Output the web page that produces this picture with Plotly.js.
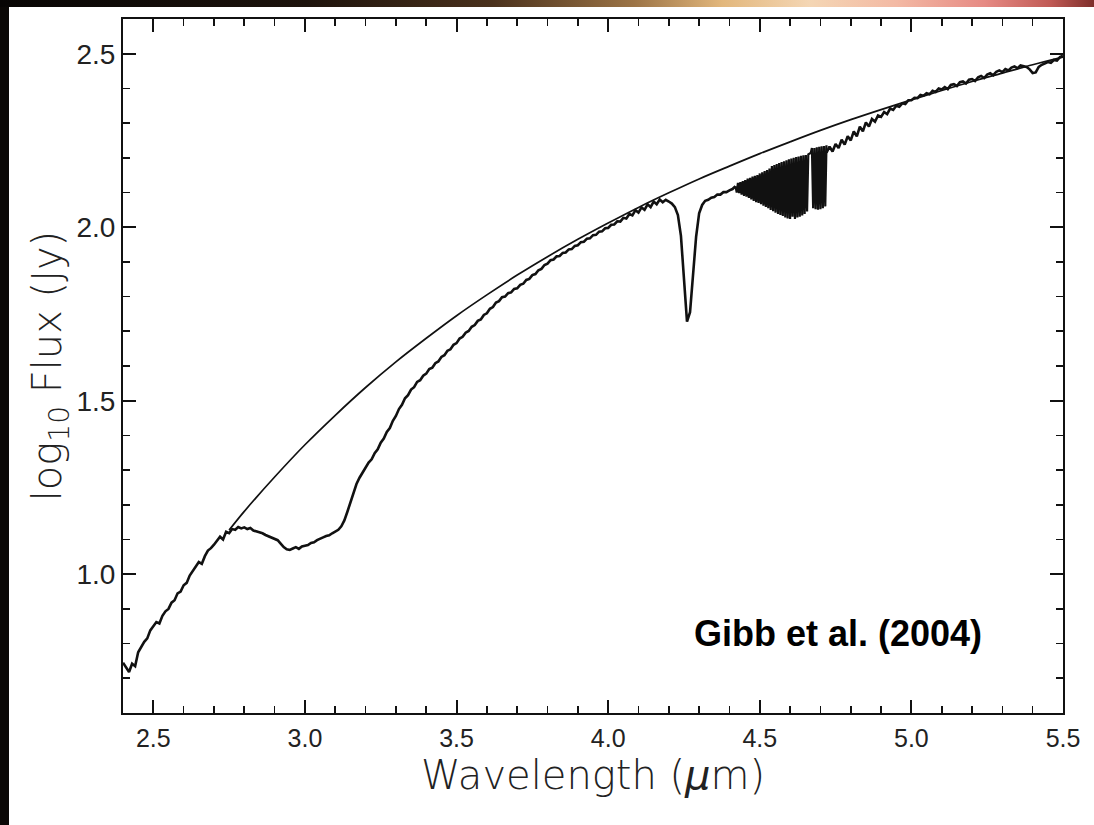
<!DOCTYPE html>
<html>
<head>
<meta charset="utf-8">
<script src="https://cdn.plot.ly/plotly-3.0.1.min.js"></script>
<style>
  html, body { margin: 0; padding: 0; background: #ffffff; }
  #chart { position: absolute; left: 0; top: 0; width: 1094px; height: 825px; }
  #edgeLeft { position: absolute; left: 0; top: 0; width: 9px; height: 825px; background: #0b0806; z-index: 5; }
  #edgeTop { position: absolute; left: 0; top: 0; width: 1094px; height: 7px; z-index: 5;
    background: linear-gradient(to right, #070504 0%, #1d130c 28%, #4a311c 45%, #9c7446 58%, #e2b77c 66%, #f4d6b4 74%, #f3b9a4 82%, #e68a84 90%, #c05a55 96%, #7e2e2a 100%); }
</style>
</head>
<body>
<div id="chart"></div>
<div id="edgeLeft"></div>
<div id="edgeTop"></div>
<script>
// Observed spectrum, segment 1: 2.40 to 4.42 um, step 0.01 um
const spectrumA_start = 2.40;
const spectrumA_step = 0.01;
const spectrumA_flux = [
  0.745,0.730,0.718,0.742,0.735,0.775,0.790,0.805,0.815,0.838,
  0.850,0.862,0.858,0.880,0.893,0.900,0.918,0.925,0.945,0.950,
  0.968,0.975,0.996,1.010,1.022,1.035,1.030,1.052,1.068,1.075,
  1.085,1.098,1.108,1.100,1.122,1.118,1.130,1.128,1.136,1.132,
  1.135,1.130,1.133,1.126,1.124,1.120,1.118,1.113,1.109,1.106,
  1.103,1.098,1.088,1.078,1.072,1.070,1.074,1.078,1.073,1.080,
  1.082,1.084,1.090,1.092,1.098,1.101,1.106,1.110,1.112,1.118,
  1.122,1.128,1.138,1.155,1.180,1.208,1.235,1.260,1.278,1.292,
  1.304,1.322,1.331,1.349,1.360,1.379,1.391,1.410,1.421,1.442,
  1.456,1.476,1.488,1.507,1.516,1.532,1.539,1.554,1.559,1.572,
  1.578,1.591,1.595,1.608,1.613,1.626,1.631,1.644,1.648,1.661,
  1.666,1.679,1.684,1.696,1.701,1.713,1.718,1.730,1.734,1.747,
  1.752,1.765,1.770,1.783,1.787,1.798,1.800,1.810,1.812,1.822,
  1.824,1.834,1.837,1.848,1.851,1.862,1.865,1.876,1.880,1.891,
  1.895,1.905,1.907,1.916,1.917,1.926,1.927,1.936,1.937,1.946,
  1.948,1.957,1.958,1.967,1.968,1.977,1.978,1.987,1.988,1.997,
  1.998,2.007,2.008,2.017,2.016,2.027,2.025,2.038,2.034,2.049,
  2.042,2.057,2.050,2.066,2.058,2.074,2.066,2.080,2.072,2.079,
  2.074,2.068,2.058,2.035,1.975,1.865,1.728,1.755,1.852,1.972,
  2.040,2.064,2.076,2.079,2.085,2.087,2.094,2.094,2.101,2.101,
  2.106,2.110,2.118
];

// Observed spectrum, segment 2: CO line forest 4.42 to 4.72 um, step 0.004 um
const spectrumB_start = 4.42;
const spectrumB_step = 0.004;
const spectrumB_flux = [
  2.118,2.100,2.128,2.098,2.130,2.094,2.133,2.090,2.136,2.088,
  2.140,2.084,2.142,2.080,2.146,2.076,2.148,2.072,2.150,2.070,
  2.155,2.066,2.158,2.062,2.162,2.058,2.165,2.055,2.169,2.050,
  2.176,2.046,2.179,2.042,2.182,2.038,2.185,2.035,2.188,2.032,
  2.190,2.028,2.193,2.025,2.196,2.024,2.198,2.030,2.200,2.024,
  2.202,2.028,2.204,2.030,2.206,2.034,2.207,2.038,2.208,2.045,
  2.210,2.212,2.214,2.228,2.055,2.228,2.052,2.230,2.050,2.232,
  2.052,2.233,2.055,2.234,2.060,2.236
];

// Observed spectrum, segment 3: 4.72 to 5.50 um, step 0.01 um
const spectrumC_start = 4.72;
const spectrumC_step = 0.01;
const spectrumC_flux = [
  2.215,2.232,2.218,2.240,2.228,2.252,2.238,2.262,2.250,2.276,
  2.262,2.290,2.276,2.302,2.290,2.312,2.304,2.322,2.318,2.332,
  2.326,2.342,2.338,2.350,2.347,2.357,2.355,2.366,2.366,2.373,
  2.372,2.381,2.379,2.386,2.383,2.393,2.390,2.400,2.397,2.404,
  2.398,2.410,2.412,2.407,2.418,2.420,2.414,2.425,2.427,2.421,
  2.432,2.436,2.430,2.440,2.444,2.438,2.448,2.452,2.447,2.456,
  2.452,2.460,2.463,2.458,2.466,2.463,2.462,2.455,2.444,2.446,
  2.462,2.468,2.472,2.476,2.474,2.482,2.480,2.490,2.494
];

// Fitted continuum
const continuum_wavelength = [2.75,2.8,2.9,3.0,3.1,3.2,3.3,3.4,3.5,3.6,3.7,3.8,3.9,4.0,4.1,4.2,4.3,4.4,4.5,4.6,4.7,4.8,4.9,5.0,5.1,5.2,5.3,5.4,5.5];
const continuum_flux = [1.127,1.181,1.280,1.373,1.458,1.538,1.612,1.680,1.745,1.805,1.862,1.915,1.965,2.012,2.057,2.099,2.139,2.176,2.212,2.246,2.279,2.310,2.339,2.367,2.394,2.420,2.444,2.468,2.490];

const xTitle = 'Wavelength (<i>μ</i>m)';
const yTitle = 'log<sub>10</sub> Flux (Jy)';
const sourceNote = 'Gibb et al. (2004)';

const ink = '#111111';
const specLine = { color: ink, width: 2.6 };

const traces = [
  { type: 'scatter', mode: 'lines', x: continuum_wavelength, y: continuum_flux,
    line: { color: ink, width: 1.7, shape: 'spline' }, hoverinfo: 'skip', showlegend: false },
  { type: 'scatter', mode: 'lines', x0: spectrumA_start, dx: spectrumA_step, y: spectrumA_flux,
    line: specLine, showlegend: false },
  { type: 'scatter', mode: 'lines', x0: spectrumB_start, dx: spectrumB_step, y: spectrumB_flux,
    line: { color: ink, width: 2.2 }, showlegend: false },
  { type: 'scatter', mode: 'lines', x0: spectrumC_start, dx: spectrumC_step, y: spectrumC_flux,
    line: specLine, showlegend: false }
];

const titleFontX = { family: 'DejaVu Sans, sans-serif', size: 40, color: '#222', weight: 300 };
const titleFontY = { family: 'DejaVu Sans, sans-serif', size: 40, color: '#222', weight: 300 };

const axisCommon = {
  ticks: 'inside', ticklen: 13, tickwidth: 2, tickcolor: ink,
  showline: true, linewidth: 2, linecolor: ink, mirror: 'allticks',
  showgrid: false, zeroline: false, tickformat: '.1f',
  minor: { ticks: 'inside', ticklen: 7, tickwidth: 1.6, tickcolor: ink, dtick: 0.1, showgrid: false }
};

const layout = {
  width: 1094, height: 825,
  margin: { l: 123, r: 31, t: 19, b: 112 },
  paper_bgcolor: '#ffffff', plot_bgcolor: '#ffffff',
  showlegend: false,
  xaxis: Object.assign({}, axisCommon, {
    range: [2.4, 5.5], tick0: 2.5, dtick: 0.5,
    tickfont: { family: 'Liberation Sans, Arial, sans-serif', size: 25, color: '#222' },
    ticklabelstandoff: 2,
    minor: Object.assign({}, axisCommon.minor, { tick0: 2.5 }),
    title: { text: xTitle, font: titleFontX, standoff: 0 }
  }),
  yaxis: Object.assign({}, axisCommon, {
    range: [0.6, 2.6], tick0: 1.0, dtick: 0.5,
    tickfont: { family: 'Liberation Sans, Arial, sans-serif', size: 28, color: '#222' },
    minor: Object.assign({}, axisCommon.minor, { tick0: 1.0 }),
    title: { text: yTitle, font: titleFontY, standoff: 0 }
  }),
  annotations: [
    { text: sourceNote, xref: 'x', yref: 'y', x: 4.758, y: 0.83, showarrow: false,
      font: { family: 'Liberation Sans, Arial, sans-serif', size: 36, color: '#000', weight: 700 } }
  ]
};

Plotly.newPlot('chart', traces, layout, { displayModeBar: false, staticPlot: true });
</script>
</body>
</html>
